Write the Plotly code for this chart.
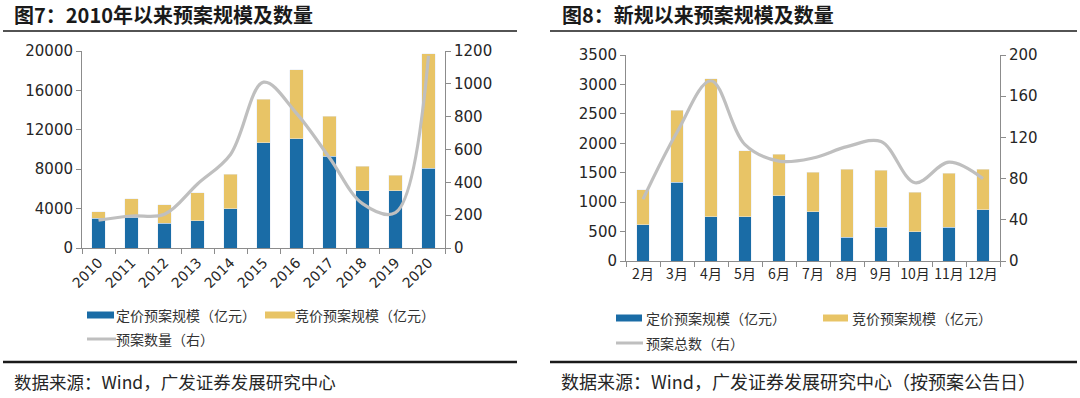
import plotly.graph_objects as go

# ---------------- data ----------------
years = ["2010", "2011", "2012", "2013", "2014", "2015", "2016", "2017", "2018", "2019", "2020"]
fixed_price_scale = [3000, 3100, 2500, 2750, 4000, 10700, 11100, 9300, 5800, 5800, 8100]
bid_price_scale = [700, 1900, 1900, 2850, 3500, 4400, 7000, 4100, 2500, 1600, 11600]
plan_count = [170, 195, 205, 390, 570, 1010, 820, 550, 270, 215, 1170]

months = ["2月", "3月", "4月", "5月", "6月", "7月", "8月", "9月", "10月", "11月", "12月"]
m_fixed = [620, 1340, 750, 750, 1110, 840, 400, 570, 500, 570, 870]
m_bid = [590, 1220, 2350, 1120, 700, 670, 1160, 970, 670, 920, 690]
m_count = [60, 125, 175, 113, 97, 100, 111, 116, 76, 96, 80]

BLUE = "#1A6CA6"
GOLD = "#E8C466"
GRAY = "#BFBFBF"
FONT = "Noto Sans CJK SC"
NUMFONT = "DejaVu Sans"

W, H = 1080, 398
def px(x):
    return x / W
def py(y):
    return 1 - y / H

fig = go.Figure()

# chart 1
fig.add_trace(go.Bar(x=years, y=fixed_price_scale, marker_color=BLUE, width=0.4,
                     xaxis="x", yaxis="y", showlegend=False))
fig.add_trace(go.Bar(x=years, y=bid_price_scale, marker_color=GOLD, width=0.4,
                     xaxis="x", yaxis="y", showlegend=False))
fig.add_trace(go.Scatter(x=years, y=plan_count, mode="lines", line=dict(color=GRAY, width=3.2, shape="spline", smoothing=1.0),
                         xaxis="x", yaxis="y2", showlegend=False))
# chart 2
fig.add_trace(go.Bar(x=months, y=m_fixed, marker_color=BLUE, width=0.36,
                     xaxis="x2", yaxis="y3", showlegend=False))
fig.add_trace(go.Bar(x=months, y=m_bid, marker_color=GOLD, width=0.36,
                     xaxis="x2", yaxis="y3", showlegend=False))
fig.add_trace(go.Scatter(x=months, y=m_count, mode="lines", line=dict(color=GRAY, width=3.2, shape="spline", smoothing=1.0),
                         xaxis="x2", yaxis="y4", showlegend=False))

axis_common = dict(showgrid=False, zeroline=False, showline=True, linecolor="#8C8C8C", linewidth=1,
                   ticks="outside", ticklen=5, tickcolor="#8C8C8C", automargin=False,
                   tickfont=dict(family=NUMFONT, size=15, color="#262626"))

fig.update_layout(
    width=W, height=H,
    margin=dict(l=0, r=0, t=0, b=0, pad=0),
    paper_bgcolor="white", plot_bgcolor="white",
    barmode="stack",
    showlegend=False,
    xaxis=dict(domain=[px(82), px(445)], anchor="y", tickson="boundaries", tickangle=-45,
               **axis_common),
    yaxis=dict(domain=[py(248), py(51)], anchor="x", range=[0, 20000], tickvals=[0, 4000, 8000, 12000, 16000, 20000],
               tickformat="d", **axis_common),
    yaxis2=dict(overlaying="y", side="right", anchor="x", range=[0, 1200], tickvals=[0, 200, 400, 600, 800, 1000, 1200],
                tickformat="d", **axis_common),
    xaxis2=dict(domain=[px(626), px(1000)], anchor="y3", tickson="boundaries", tickangle=0,
                **axis_common),
    yaxis3=dict(domain=[py(261), py(55)], anchor="x2", range=[0, 3500], tickvals=[0, 500, 1000, 1500, 2000, 2500, 3000, 3500],
                tickformat="d", **axis_common),
    yaxis4=dict(overlaying="y3", side="right", anchor="x2", range=[0, 200], tickvals=[0, 40, 80, 120, 160, 200],
                tickformat="d", **axis_common),
)
fig.update_layout(xaxis_tickfont=dict(family=NUMFONT, size=14, color="#262626"),
                  xaxis2_tickfont=dict(family=FONT, size=14, color="#262626"))

shapes = []
# title underlines and bottom rules
shapes.append(dict(type="line", xref="paper", yref="paper", x0=px(3), x1=px(517), y0=py(31), y1=py(31),
                   line=dict(color="#1a1a1a", width=1.5)))
shapes.append(dict(type="line", xref="paper", yref="paper", x0=px(550), x1=px(1077), y0=py(31), y1=py(31),
                   line=dict(color="#1a1a1a", width=1.5)))
shapes.append(dict(type="line", xref="paper", yref="paper", x0=px(3), x1=px(517), y0=py(362), y1=py(362),
                   line=dict(color="#1a1a1a", width=2.5)))
shapes.append(dict(type="line", xref="paper", yref="paper", x0=px(550), x1=px(1077), y0=py(362), y1=py(362),
                   line=dict(color="#1a1a1a", width=2.5)))

annotations = []
def text(x, y, s, size=13, family=FONT, color="#333333"):
    annotations.append(dict(xref="paper", yref="paper", x=px(x), y=py(y), text=s, showarrow=False,
                            xanchor="left", yanchor="middle", borderpad=0,
                            font=dict(family=family, size=size, color=color)))

def swatch(x0, x1, y, color):
    shapes.append(dict(type="rect", xref="paper", yref="paper", x0=px(x0), x1=px(x1), y0=py(y + 3.5), y1=py(y - 3.5),
                       fillcolor=color, line=dict(width=0)))

def linesw(x0, x1, y):
    shapes.append(dict(type="line", xref="paper", yref="paper", x0=px(x0), x1=px(x1), y0=py(y), y1=py(y),
                       line=dict(color=GRAY, width=3)))

# titles
text(13, 15, "<b>图7：2010年以来预案规模及数量</b>", size=20, color="#1a1a1a")
text(561, 15, "<b>图8：新规以来预案规模及数量</b>", size=20, color="#1a1a1a")

# legends chart 1
swatch(87, 114, 315, BLUE)
text(115, 315, "定价预案规模（亿元）", size=14)
swatch(265, 295, 315, GOLD)
text(294, 315, "竞价预案规模（亿元）", size=14)
linesw(87, 116, 339)
text(115, 339, "预案数量（右）", size=14)

# legends chart 2
swatch(616, 642, 318, BLUE)
text(645, 318, "定价预案规模（亿元）", size=14)
swatch(823, 848, 318, GOLD)
text(851, 318, "竞价预案规模（亿元）", size=14)
linesw(616, 643, 343)
text(645, 343, "预案总数（右）", size=14)

# sources
text(13, 381, "数据来源：Wind，广发证券发展研究中心", size=17.5, color="#262626")
text(560, 381, "数据来源：Wind，广发证券发展研究中心（按预案公告日）", size=18, color="#262626")

fig.update_layout(shapes=shapes, annotations=annotations)

fig.write_html("out.html", config={"displayModeBar": False},
               post_script="document.body.style.margin='0';document.body.style.overflow='hidden';")
